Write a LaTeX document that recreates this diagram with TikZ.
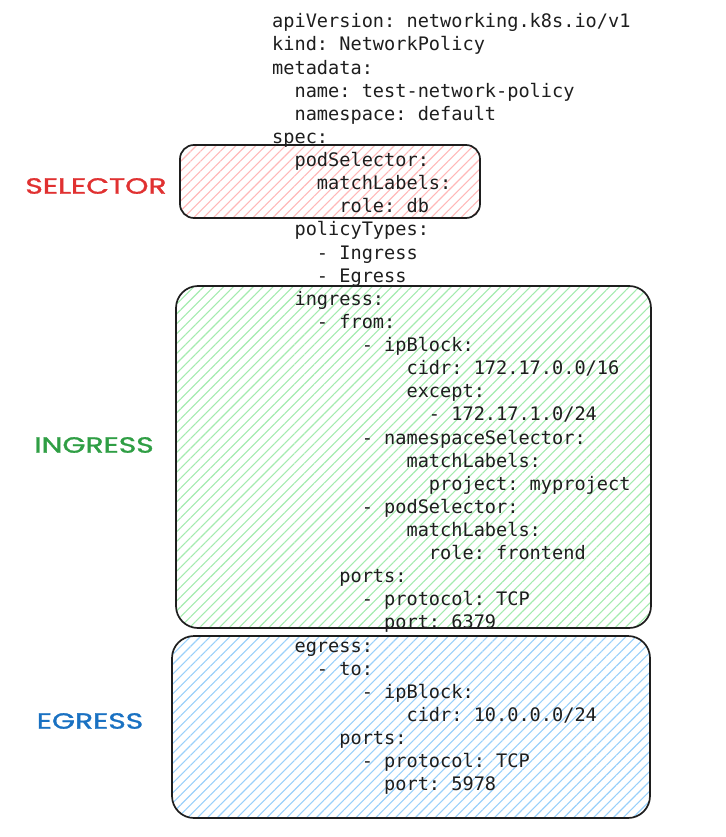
\documentclass[tikz,border=0pt]{standalone}
\usepackage{fontspec}
\setmonofont{DejaVu Sans Mono}
\newfontfamily\tagfont{Poppins}[FakeBold=1.2]
\usepackage{tikz}
\usetikzlibrary{patterns.meta}

\definecolor{ink}{HTML}{1E1E1E}
\definecolor{selred}{HTML}{E03131}
\definecolor{ingreen}{HTML}{2F9E44}
\definecolor{egblue}{HTML}{1971C2}
\definecolor{selhatch}{HTML}{FFB8B8}
\definecolor{inghatch}{HTML}{A3EBAE}
\definecolor{eghatch}{HTML}{99D0FA}

% indent of n characters in the yaml font
\newcommand{\yind}[1]{\hspace*{\fpeval{#1*0.602}em}}

\tikzset{
  hatchbox/.style={draw=ink, line width=1.7pt,
    pattern={Lines[angle=45,distance=7pt,line width=1.1pt]}, pattern color=#1},
  tag/.style={font=\tagfont\fontsize{22}{22}\selectfont, inner sep=0pt},
  yaml/.style={font=\ttfamily\fontsize{18.6}{23.12}\selectfont, text=ink,
    align=left, anchor=north west, inner sep=0pt}
}

\begin{document}
\begin{tikzpicture}[x=1pt, y=-1pt]
  \useasboundingbox (0,0) rectangle (725,837);

  % boxes
  \draw [hatchbox=selhatch, rounded corners=14pt] (180,145) rectangle (480,218);
  \draw [hatchbox=inghatch, rounded corners=22pt] (176,286) rectangle (651,628);
  \draw [hatchbox=eghatch, rounded corners=22pt] (172,636) rectangle (650,818);

  % the policy
  \node [yaml] (policy) at (272,13.5) {%
    apiVersion: networking.k8s.io/v1\\
    kind: NetworkPolicy\\
    metadata:\\
    \yind{2}name: test-network-policy\\
    \yind{2}namespace: default\\
    spec:\\
    \yind{2}podSelector:\\
    \yind{4}matchLabels:\\
    \yind{6}role: db\\
    \yind{2}policyTypes:\\
    \yind{4}- Ingress\\
    \yind{4}- Egress\\
    \yind{2}ingress:\\
    \yind{4}- from:\\
    \yind{8}- ipBlock:\\
    \yind{12}cidr: 172.17.0.0/16\\
    \yind{12}except:\\
    \yind{14}- 172.17.1.0/24\\
    \yind{8}- namespaceSelector:\\
    \yind{12}matchLabels:\\
    \yind{14}project: myproject\\
    \yind{8}- podSelector:\\
    \yind{12}matchLabels:\\
    \yind{14}role: frontend\\
    \yind{6}ports:\\
    \yind{8}- protocol: TCP\\
    \yind{10}port: 6379\\
    \yind{2}egress:\\
    \yind{4}- to:\\
    \yind{8}- ipBlock:\\
    \yind{12}cidr: 10.0.0.0/24\\
    \yind{6}ports:\\
    \yind{8}- protocol: TCP\\
    \yind{10}port: 5978};

  % labels
  \node [tag, text=selred] (selector) at (96,186) {\scalebox{1.35}[1]{SELECTOR}};
  \node [tag, text=ingreen] (ingress) at (94,445) {\scalebox{1.35}[1]{INGRESS}};
  \node [tag, text=egblue] (egress) at (90,721) {\scalebox{1.35}[1]{EGRESS}};
\end{tikzpicture}
\end{document}
